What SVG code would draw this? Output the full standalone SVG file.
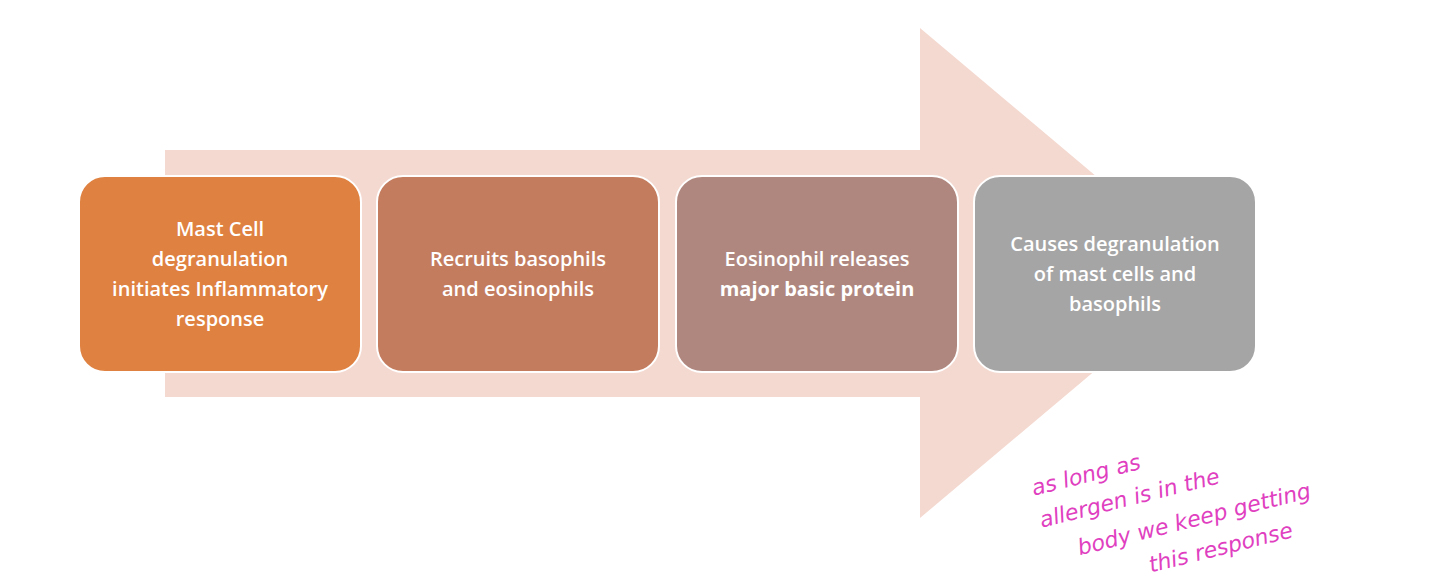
<svg xmlns="http://www.w3.org/2000/svg" width="1440" height="587" viewBox="0 0 1440 587">
<style>
.box{stroke:#fff;stroke-width:2}
.t{font-family:"Open Sans","Liberation Sans",sans-serif;font-size:20px;font-weight:600;fill:#fff;text-anchor:middle}
.b{font-weight:bold}
.h{font-family:"DejaVu Sans",sans-serif;font-size:22px;fill:#e040c0;font-style:italic;font-weight:200}
</style>
<rect width="1440" height="587" fill="#fff"/>
<g id="connectors">
<path d="M165,150 H920 V28 L1211,273 L920,518 V397 H165 Z" fill="#F4D9D0"/>
</g>
<g id="n1"><rect class="box" x="79" y="176" width="282" height="196" rx="26" fill="#DF8140"/>
<text class="t" x="220" y="236">Mast Cell</text><text class="t" x="220" y="266">degranulation</text><text class="t" x="220" y="296">initiates Inflammatory</text><text class="t" x="220" y="326">response</text></g>
<g id="n2"><rect class="box" x="377" y="176" width="282" height="196" rx="26" fill="#C47C5E"/>
<text class="t" x="518" y="266">Recruits basophils</text><text class="t" x="518" y="296">and eosinophils</text></g>
<g id="n3"><rect class="box" x="676" y="176" width="282" height="196" rx="26" fill="#B0877E"/>
<text class="t" x="817" y="266">Eosinophil releases</text><text class="t b" x="817" y="296">major basic protein</text></g>
<g id="n4"><rect class="box" x="974" y="176" width="282" height="196" rx="26" fill="#A5A5A5"/>
<text class="t" x="1115" y="251">Causes degranulation</text><text class="t" x="1115" y="281">of mast cells and</text><text class="t" x="1115" y="311">basophils</text></g>
<g id="note" transform="rotate(-14 1200 480)">
<text class="h" x="1035" y="455">as long as</text>
<text class="h" x="1035" y="488">allergen is in the</text>
<text class="h" x="1065" y="524">body  we   keep getting</text>
<text class="h" x="1130" y="558">this  response</text>
</g>
</svg>
